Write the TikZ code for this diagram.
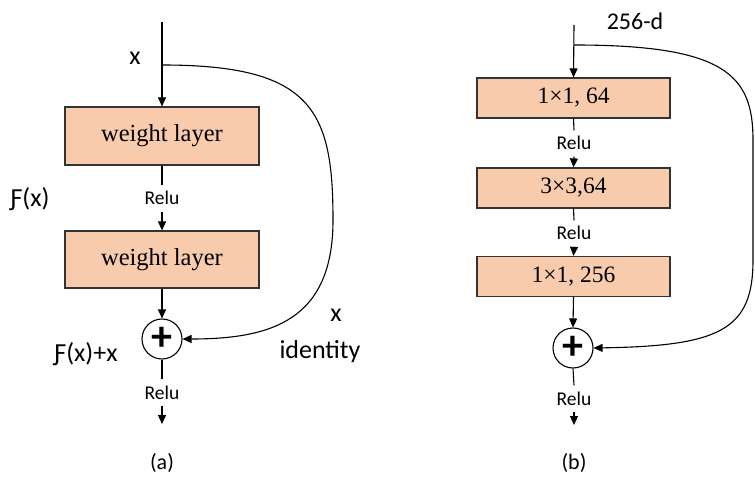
\documentclass[tikz,border=0pt]{standalone}
\usepackage{fontspec}
\setmainfont{Liberation Serif}
\newfontfamily\sans{Carlito}
\usetikzlibrary{arrows.meta}
\definecolor{peach}{HTML}{F8CBAD}
\begin{document}
\begin{tikzpicture}[x=1pt,y=-1pt,
  lw/.style={line width=1.1pt},
  arr/.style={lw,-{Triangle[width=8pt,length=9pt]}},
  layer/.style={draw=black!80,line width=1.2pt,fill=peach,minimum width=194pt,inner sep=0pt,font=\fontsize{24.5}{28}\selectfont},
  layerb/.style={layer,minimum width=193pt,minimum height=40pt,font=\fontsize{23.5}{27}\selectfont},
  relu/.style={font=\sans\fontsize{19.5}{21}\selectfont,text height=13pt,text depth=0pt,inner ysep=6.5pt,inner xsep=2pt,anchor=base},
  lab/.style={font=\sans\fontsize{26}{30}\selectfont,anchor=base,inner sep=0pt},
  plus/.style={circle,draw,line width=1.1pt,minimum size=40pt,inner sep=0pt,font=\sans\bfseries\fontsize{42}{42}\selectfont}]
\useasboundingbox (0,0) rectangle (755,478);
% (a)
\coordinate (a0) at (162,22);
\coordinate (abr) at (162,65);
\node[layer,minimum height=58pt] (a1) at (162,136) {weight layer};
\node[relu] (ar1) at (162,205) {Relu};
\node[layer,minimum height=57pt] (a2) at (162,259.5) {weight layer};
\node[plus] (ap) at (162,339) {+};
\node[relu] (ar2) at (162,399) {Relu};
\coordinate (aend) at (162,424);
\draw[arr] (a0) -- (a1.north);
\draw[lw] (a1.south) -- (ar1.north);
\draw[arr] (ar1.south) -- (a2.north);
\draw[arr] (a2.south) -- (ap.north);
\draw[lw] (ap.south) -- (ar2.north);
\draw[arr] (ar2.south) -- (aend);
\draw[arr] (abr) .. controls (312,65) and (333,110) .. (333,220) .. controls (333,320) and (272,339) .. (ap.east);
\node[lab] (lx) at (135,65) {x};
\node[lab] (lf) at (30,207) {Ƒ(x)};
\node[lab] (lfx) at (86,361) {Ƒ(x)+x};
\node[lab] (lx2) at (336,322) {x};
\node[lab] (lid) at (320,359) {identity};
\node[lab,font=\sans\fontsize{22}{26}\selectfont] (la) at (162,469) {(a)};
% (b)
\coordinate (b0) at (574,25);
\coordinate (bbr) at (574,45);
\node[layerb] (b1) at (573.5,98) {1×1, 64};
\node[relu] (br1) at (574,150) {Relu};
\node[layerb] (b2) at (573.5,188) {3×3,64};
\node[relu] (br2) at (574,240) {Relu};
\node[layerb] (b3) at (573.5,276.5) {1×1, 256};
\node[plus] (bp) at (573,348) {+};
\node[relu] (br3) at (574,405) {Relu};
\coordinate (bend) at (574,425);
\draw[arr] (b0) -- (b1.north);
\draw[lw] (b1.south) -- (br1.north);
\draw[arr] (br1.south) -- (b2.north);
\draw[lw] (b2.south) -- (br2.north);
\draw[arr] (br2.south) -- (b3.north);
\draw[arr] (b3.south) -- (bp.north);
\draw[lw] (bp.south) -- (br3.north);
\draw[arr] (br3.south) -- (bend);
\draw[arr] (bbr) .. controls (725,45) and (753,75) .. (753,140) -- (753,260) .. controls (753,330) and (720,346) .. (bp.east);
\node[lab,font=\sans\fontsize{24}{28}\selectfont] (l256) at (635,30) {256-d};
\node[lab,font=\sans\fontsize{22}{26}\selectfont] (lb) at (574,469) {(b)};
\end{tikzpicture}
\end{document}
